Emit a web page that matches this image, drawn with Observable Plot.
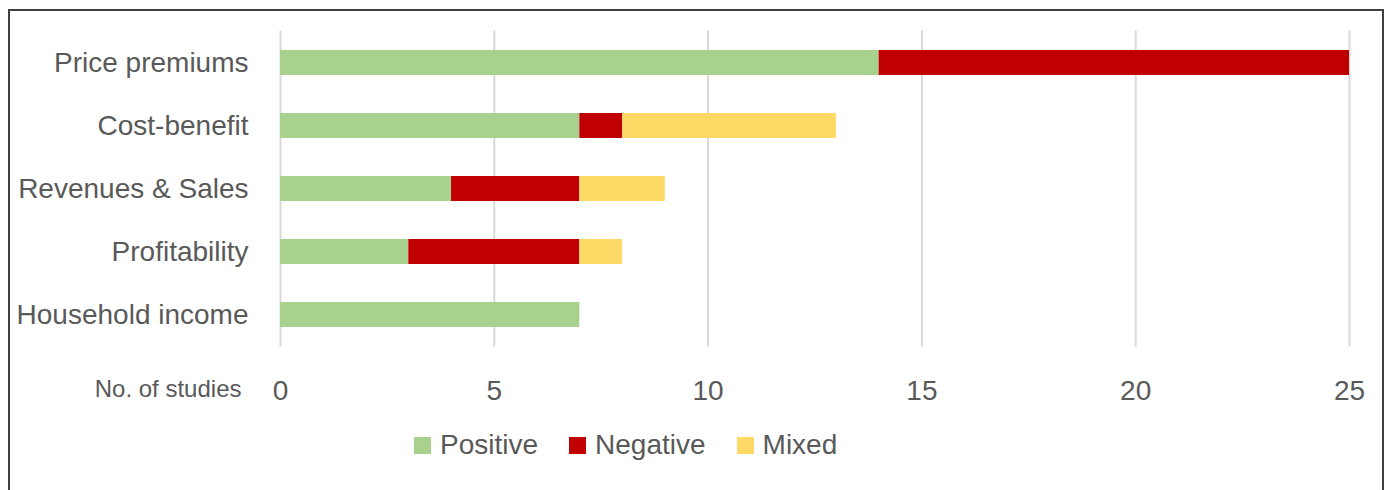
<!DOCTYPE html>
<html><head><meta charset="utf-8">
<script src="https://cdn.jsdelivr.net/npm/d3@7"></script>
<script src="https://cdn.jsdelivr.net/npm/@observablehq/plot@0.6"></script>
<style>
body{margin:0;background:#fff;font-family:"Liberation Sans",Arial,sans-serif;}
#wrap{position:relative;width:1391px;height:490px;overflow:hidden;}
#frame{position:absolute;left:8px;top:9px;width:1376px;height:520px;border:2px solid #404040;border-bottom:none;box-sizing:border-box;pointer-events:none;}
#chart{position:absolute;left:0;top:0;}
#legend{position:absolute;left:414px;top:429px;display:flex;align-items:center;font-size:28px;color:#595959;white-space:nowrap;}
#legend .item{display:flex;align-items:center;margin-right:31px;}
#legend .sw{width:17px;height:17px;margin-right:9px;}
</style></head>
<body>
<div id="wrap">
  <div id="chart"></div>
  <div id="frame"></div>
  <div id="legend"></div>
</div>
<script>
const categories = ["Price premiums","Cost-benefit","Revenues & Sales","Profitability","Household income"];
const seriesNames = ["Positive","Negative","Mixed"];
const seriesColors = ["#a9d18e","#c00000","#ffd966"];
const positive = [14,7,4,3,7];
const negative = [11,1,3,4,0];
const mixed = [0,5,2,1,0];
const xTicks = [0,5,10,15,20,25];
const axisTitle = "No. of studies";

const values = [positive, negative, mixed];
const rows = [];
seriesNames.forEach((s, si) => categories.forEach((c, ci) => rows.push({cat: c, series: s, value: values[si][ci]})));

const chart = Plot.plot({
  width: 1391, height: 490,
  marginLeft: 280, marginRight: 42, marginTop: 30.5, marginBottom: 143.5,
  style: {fontSize: "28px", fontFamily: "'Liberation Sans', Arial, sans-serif", color: "#595959", background: "transparent"},
  x: {domain: [0, 25]},
  y: {domain: categories, paddingInner: 0.6, paddingOuter: 0.3},
  color: {domain: seriesNames, range: seriesColors},
  marks: [
    Plot.gridX(xTicks, {stroke: "#d9d9d9", strokeOpacity: 1, strokeWidth: 2}),
    Plot.barX(rows, Plot.stackX({x: "value", y: "cat", fill: "series", order: seriesNames})),
    Plot.axisX({ticks: xTicks, tickSize: 0, tickPadding: 33.5, label: null, fontSize: 28}),
    Plot.axisY({tickSize: 0, tickPadding: 32, label: null, fontSize: 28}),
    Plot.text([axisTitle], {x: 0, frameAnchor: "bottom", dy: 42.5, dx: -39, text: d => d, textAnchor: "end", lineAnchor: "middle", fontSize: 24})
  ]
});
document.getElementById("chart").appendChild(chart);

const legend = document.getElementById("legend");
seriesNames.forEach((s, i) => {
  const it = document.createElement("div");
  it.className = "item";
  const sw = document.createElement("span");
  sw.className = "sw"; sw.style.background = seriesColors[i];
  const t = document.createElement("span");
  t.textContent = s;
  it.appendChild(sw); it.appendChild(t);
  legend.appendChild(it);
});
</script>
</body></html>
